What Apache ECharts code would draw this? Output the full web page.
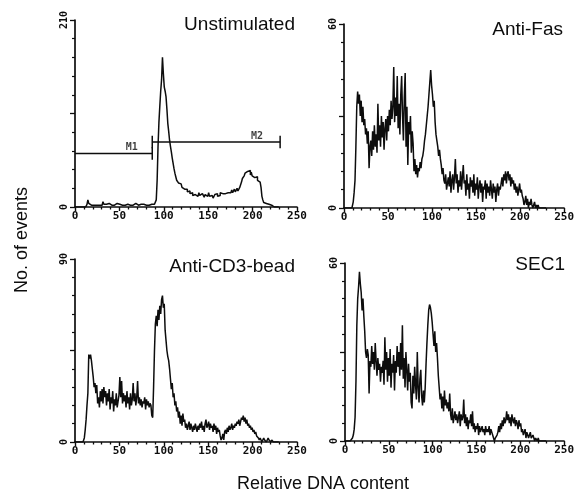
<!DOCTYPE html>
<html><head><meta charset="utf-8">
<script src="https://cdn.jsdelivr.net/npm/echarts@6/dist/echarts.min.js"></script>
<style>html,body{margin:0;padding:0;background:#fff}#c{width:577px;height:493px}</style>
</head><body><div id="c"></div>
<script>
// ---- data (one value per DNA channel, starting at channel 0) ----
const panelTitles = ['Unstimulated', 'Anti-Fas', 'Anti-CD3-bead', 'SEC1'];
const yMaxes = [210, 60, 90, 60];
const xTicks = [0, 50, 100, 150, 200, 250];
const xAxisTitle = 'Relative DNA content';
const yAxisTitle = 'No. of events';

const unstimulated = [
  0,0,0,0,0,0,0,0,0,0,0,0,0,
  1,3,8,4,
  3,2,4,3,2,3,4,2,3,3,2,4,3,2,
  4,6,3,
  2,3,2,3,4,2,3,2,3,3,2,3,2,4,2,3,3,
  2,3,2,3,3,2,4,2,3,2,3,2,3,3,2,3,2,4,2,3,
  2,3,2,3,3,2,3,2,3,2,3,3,2,3,2,3,2,3,3,2,4,
  8,30,68,95,113,130,143,168,
  150,135,130,124,110,94,85,75,68,62,55,49,43,
  38,34,30,29,27,27,26,24,22,21,20,19,
  18,20,17,16,18,15,14,16,13,15,14,
  13,15,12,14,16,13,12,15,14,13,11,14,15,12,13,16,12,11,13,14,10,12,14,13,15,12,14,13,16,14,15,13,16,15,17,14,16,15,18,16,
  17,19,16,18,20,17,19,21,18,20,22,24,
  28,32,30,35,38,36,40,42,
  38,41,36,39,35,37,33,35,31,34,
  30,32,28,30,22,12,8,
  5,4,4,3,2,3,2,1,2,1,1,0,0,0,0,0,0,0
];
const antiFas = [
  0,0,0,0,0,0,0,0,0,0,0,
  2,5,9,20,33,38,
  34,37,30,35,28,33,
  27,29,24,26,21,25,13,20,
  22,17,25,19,27,20,24,18,34,22,
  27,20,30,23,28,19,26,29,22,30,
  25,32,27,35,29,33,
  46,
  28,36,30,43,26,34,24,37,
  43,
  30,22,36,
  44,
  20,33,14,28,24,30,18,25,21,
  12,16,11,14,10,13,12,15,13,16,17,
  19,22,24,27,30,33,37,41,
  45,
  40,37,33,35,28,24,
  22,20,17,19,16,14,11,
  13,9,8,11,6,8,
  10,7,12,5,9,11,6,10,
  16,
  8,11,5,9,7,12,6,10,14,8,
  9,4,11,6,8,3,10,7,9,5,11,4,8,6,10,3,7,9,
  5,8,2,7,6,9,3,8,5,7,4,9,6,3,8,5,7,2,6,8,4,7,6,
  8,10,7,11,9,12,8,11,12,9,11,7,10,8,9,
  6,8,5,7,4,6,8,5,6,4,
  3,1,2,4,1,3,0,2,1,3,1,0,1,2,0,1,0,1,0,
  0,0,0,0,0,0,0,0
];
const antiCD3 = [
  0,0,0,0,0,0,0,0,0,0,0,
  2,6,11,18,24,43,
  41,43,40,36,32,
  27,29,24,28,19,22,17,25,20,
  26,19,27,22,25,18,24,20,26,16,
  22,19,25,15,21,18,24,17,20,23,
  32,22,30,19,24,
  20,23,17,25,19,22,16,24,18,21,
  29,
  20,24,18,22,30,19,
  22,18,21,17,20,19,22,16,21,18,20,17,19,18,
  13,12,
  27,45,58,62,57,
  65,60,67,63,70,72,66,68,
  55,50,45,42,40,36,31,
  26,29,22,24,18,20,15,17,
  12,15,9,13,8,14,10,11,
  7,9,6,8,10,6,9,7,5,8,6,9,7,5,8,6,9,7,10,6,8,5,9,11,7,8,10,6,9,7,8,5,9,6,8,4,7,5,6,3,
  1,2,4,1,5,
  6,4,7,5,8,6,7,9,6,8,7,9,8,10,9,11,8,
  10,12,11,13,10,12,9,11,8,9,
  7,8,6,7,5,6,4,5,3,
  3,2,1,2,1,0,1,2,1,1,0,1,2,1,1,0,1,1,0,0,
  0,0,0,0,0
];
const sec1 = [
  0,0,0,0,0,0,0,0,0,
  1,2,4,8,20,39,
  48,52,57,53,50,44,48,42,
  37,30,28,31,29,
  16,
  27,25,32,26,30,24,33,
  27,22,28,24,26,20,25,23,27,19,
  35,
  24,30,20,28,22,31,18,26,23,29,
  17,
  27,23,32,25,30,22,33,24,
  39,
  21,28,18,30,24,17,26,20,23,13,
  11,22,16,25,19,14,30,18,13,21,24,15,12,17,13,
  18,26,33,39,44,46,45,43,40,
  36,32,37,30,33,28,22,18,
  14,16,11,15,10,17,12,14,11,13,10,16,
  9,7,11,6,8,10,7,9,6,8,10,5,9,7,8,
  14,
  6,9,5,8,4,7,6,9,5,10,
  4,6,3,5,4,6,2,5,3,4,5,3,4,2,5,3,4,3,5,2,4,3,2,
  1,0,1,1,2,3,
  5,3,6,4,7,5,8,6,7,
  10,
  7,9,6,8,5,9,7,6,8,5,7,6,4,7,5,6,
  3,4,2,3,4,1,3,2,1,2,3,1,1,2,1,0,1,1,0,1,0,
  0,0,0,0,0,0,0,0
];
const panelSeries = [unstimulated, antiFas, antiCD3, sec1];

// gate markers on the unstimulated panel
const gateNames = ['M1', 'M2'];
const gateStart = [0, 87];
const gateEnd = [87, 231];
const gateLevel = [60, 73];
const gateTickHalf = [7, 7];
const gateLabelX = [64, 205];
</script>
<script>
const chart = echarts.init(document.getElementById('c'), null, {renderer: 'canvas'});
const INK = '#0d0d0d';
const MONO = '"DejaVu Sans Mono", "Liberation Mono", monospace';
const SANS = '"Liberation Sans", Arial, Helvetica, sans-serif';

const grids = [
  {left: 75, top: 20, width: 222, height: 187},
  {left: 344, top: 24, width: 224, height: 184},
  {left: 75, top: 259, width: 222, height: 183},
  {left: 345, top: 263, width: 223, height: 178}
];

const xAxes = grids.map((g, i) => ({
  type: 'value', gridIndex: i, min: xTicks[0], max: xTicks[xTicks.length - 1],
  interval: xTicks[1] - xTicks[0],
  axisLine: {lineStyle: {color: INK, width: 1.7}},
  axisTick: {show: true, length: 4, lineStyle: {color: INK, width: 1.4}},
  minorTick: {show: true, splitNumber: 5, length: 2.5, lineStyle: {color: INK, width: 1.3}},
  splitLine: {show: false},
  axisLabel: {color: INK, fontFamily: MONO, fontWeight: 'bold', fontSize: 11, margin: 4}
}));

const yAxes = grids.map((g, i) => {
  const mx = yMaxes[i];
  return {
    type: 'value', gridIndex: i, min: 0, max: mx, interval: mx / 2,
    axisLine: {show: true, lineStyle: {color: INK, width: 1.7}},
    axisTick: {show: true, length: 5, lineStyle: {color: INK, width: 1.3}},
    minorTick: {show: true, splitNumber: 5, length: 3, lineStyle: {color: INK, width: 1.2}},
    splitLine: {show: false},
    axisLabel: {
      rotate: 90, color: INK, fontFamily: MONO, fontWeight: 'bold', fontSize: 10, margin: 6,
      formatter: v => (v === 0 || v === mx) ? String(v) : ''
    }
  };
});

const series = panelSeries.map((arr, i) => ({
  type: 'line', xAxisIndex: i, yAxisIndex: i, step: 'middle', showSymbol: false,
  symbol: 'none', animation: false,
  lineStyle: {color: INK, width: 1.5},
  data: arr.map((v, ch) => [ch, v])
}));

gateNames.forEach((name, k) => {
  const y = gateLevel[k], h = gateTickHalf[k];
  const seg = (data) => ({
    type: 'line', xAxisIndex: 0, yAxisIndex: 0, showSymbol: false, symbol: 'none',
    animation: false, lineStyle: {color: INK, width: 1.5}, data
  });
  series.push(seg([[gateStart[k], y], [gateEnd[k], y]]));
  series.push(seg([[gateEnd[k], y - h], [gateEnd[k], y + h]]));
  if (gateStart[k] > 0) series.push(seg([[gateStart[k], y - h], [gateStart[k], y + h]]));
  series.push({
    type: 'scatter', xAxisIndex: 0, yAxisIndex: 0, symbolSize: 0, animation: false,
    data: [[gateLabelX[k], y]],
    label: {show: true, position: 'top', distance: 1, formatter: name,
      fontFamily: MONO, fontWeight: 'bold', fontSize: 10, color: INK}
  });
});

const titlePos = [
  {right: 282, top: 15}, {right: 14, top: 20}, {right: 282, top: 257}, {right: 12, top: 255}
];
const titles = panelTitles.map((t, i) => Object.assign({
  text: t, textStyle: {fontFamily: SANS, fontSize: 19, fontWeight: 'normal', color: INK}, padding: 0
}, titlePos[i]));

chart.setOption({
  backgroundColor: '#fff',
  animation: false,
  title: titles,
  grid: grids,
  xAxis: xAxes,
  yAxis: yAxes,
  series: series,
  graphic: [
    {type: 'text', x: 22, y: 240, rotation: Math.PI / 2,
      style: {text: yAxisTitle, fontFamily: SANS, fontSize: 18, fill: INK, align: 'center', verticalAlign: 'middle'}},
    {type: 'text', x: 323, y: 484,
      style: {text: xAxisTitle, fontFamily: SANS, fontSize: 18, fill: INK, align: 'center', verticalAlign: 'middle'}}
  ]
});
</script>
</body></html>
